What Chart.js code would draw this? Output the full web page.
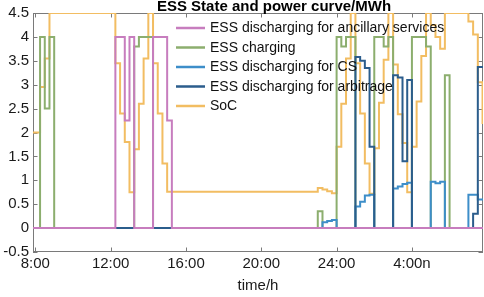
<!DOCTYPE html>
<html>
<head>
<meta charset="utf-8">
<script src="https://cdn.jsdelivr.net/npm/chart.js@4.4.0/dist/chart.umd.min.js"></script>
<style>
  html, body { margin: 0; padding: 0; background: #fff; }
</style>
</head>
<body>
<canvas id="essChart" width="484" height="297"></canvas>
<script>
// 15-min slots, slot 0 = 8:00 ... slot 95 = 7:45 next day
const tickSlots = [0, 16, 32, 48, 64, 80];
const tickLabels = ['8:00', '12:00', '16:00', '20:00', '24:00', '4:00n'];

const seriesNames = [
  'ESS discharging for ancillary services',
  'ESS charging',
  'ESS discharging for CS',
  'ESS discharging for arbitrage',
  'SoC'
];

// MW per slot, rows of 16 slots (4 h each)
const ancillary = [
  0, 0, 0, 0, 0, 0, 0, 0, 0, 0, 0, 0, 0, 0, 0, 0,
  0, 4, 4, 2.25, 4, 0, 0, 0, 0, 4, 4, 4, 2.25, 0, 0, 0,
  0, 0, 0, 0, 0, 0, 0, 0, 0, 0, 0, 0, 0, 0, 0, 0,
  0, 0, 0, 0, 0, 0, 0, 0, 0, 0, 0, 0, 0, 0, 0, 0,
  0, 0, 0, 0, 0, 0, 0, 0, 0, 0, 0, 0, 0, 0, 0, 0,
  0, 0, 0, 0, 0, 0, 0, 0, 0, 0, 0, 0, 0, 0, 0, 0
];

const charging = [
  0, 4, 2.5, 4, 0, 0, 0, 0, 0, 0, 0, 0, 0, 0, 0, 0,
  0, 0, 0, 0, 0, 3.8, 4, 4, 4, 0, 0, 0, 0, 0, 0, 0,
  0, 0, 0, 0, 0, 0, 0, 0, 0, 0, 0, 0, 0, 0, 0, 0,
  0, 0, 0, 0, 0, 0, 0, 0, 0, 0, 0, 0, 0.35, 0, 0, 0,
  4, 3.8, 4, 4, 0, 0, 0, 0, 4, 4, 3.8, 4, 0, 0, 0, 0,
  4, 4, 4, 3.8, 0, 0, 0, 3.2, 0, 0, 0, 0, 0, 0, 0, 0
];

const forCS = [
  0, 0, 0, 0, 0, 0, 0, 0, 0, 0, 0, 0, 0, 0, 0, 0,
  0, 0, 0, 0, 0, 0, 0, 0, 0, 0, 0, 0, 0, 0, 0, 0,
  0, 0, 0, 0, 0, 0, 0, 0, 0, 0, 0, 0, 0, 0, 0, 0,
  0, 0, 0, 0, 0, 0, 0, 0, 0, 0, 0, 0, 0, 0.12, 0.15, 0.17,
  0, 0, 0, 0, 0.45, 0.55, 0.68, 0.7, 0, 0, 0, 0, 0.83, 0.87, 0.92, 0.95,
  0, 0, 0, 0, 0.97, 0.94, 0.97, 0, 0, 0, 0, 0, 0.7, 0.7, 0.6, 0.6
];

const arbitrage = [
  0, 0, 0, 0, 0, 0, 0, 0, 0, 0, 0, 0, 0, 0, 0, 0,
  0, 0, 0, 0, 0, 0, 0, 0, 0, 0, 0, 0, 0, 0, 0, 0,
  0, 0, 0, 0, 0, 0, 0, 0, 0, 0, 0, 0, 0, 0, 0, 0,
  0, 0, 0, 0, 0, 0, 0, 0, 0, 0, 0, 0, 0, 0, 0, 0,
  0, 0, 0, 0, 3.58, 3.5, 3.35, 1.7, 0, 0, 0, 0, 3.2, 3.15, 1.4, 3.1,
  0, 0, 0, 0, 0, 0, 0, 0, 0, 0, 0, 0, 0, 0.3, 3.37, 3.37
];

// MWh
const soc = [
  2.0, 2.95, 3.55, 4.5, 4.5, 4.5, 4.5, 4.5, 4.5, 4.5, 4.5, 4.5, 4.5, 4.5, 4.5, 4.5,
  4.5, 3.45, 2.4, 1.8, 0.75, 1.65, 2.6, 3.55, 4.5, 3.45, 2.4, 1.35, 0.76, 0.76, 0.76, 0.76,
  0.76, 0.76, 0.76, 0.76, 0.76, 0.76, 0.76, 0.76, 0.76, 0.76, 0.76, 0.76, 0.76, 0.76, 0.76, 0.76,
  0.76, 0.76, 0.76, 0.76, 0.76, 0.76, 0.76, 0.76, 0.76, 0.76, 0.76, 0.76, 0.84, 0.81, 0.77, 0.73,
  1.7, 2.6, 3.55, 4.5, 3.45, 2.4, 1.35, 0.72, 1.67, 2.62, 3.52, 4.5, 3.42, 2.38, 1.78, 0.75,
  1.7, 2.65, 3.6, 4.5, 4.25, 4.0, 3.75, 4.5, 4.5, 4.5, 4.5, 4.5, 4.32, 4.05, 3.05, 2.2
];

const colors = ['#c77dbe', '#8cae6e', '#3d8ec9', '#2b5d8c', '#f2bd62'];
const axisColor = '#7a7a7a';
const font = "'Liberation Sans', Arial, sans-serif";

// stairs: each slot value held until the next slot
function stairs(vals) {
  const pts = [{ x: -0.5, y: vals[0] }];
  vals.forEach((v, i) => pts.push({ x: i, y: v }));
  pts.push({ x: vals.length, y: vals[vals.length - 1] });
  return pts;
}

const allSeries = [ancillary, charging, forCS, arbitrage, soc];
// drawing order: pink on top, then dark blue, light blue, green, SoC at the bottom
const drawOrder = [0, 3, 2, 1, 4];

const datasets = allSeries.map((vals, i) => ({
  label: seriesNames[i],
  data: stairs(vals),
  borderColor: colors[i],
  borderWidth: 2,
  stepped: true,
  pointRadius: 0,
  fill: false,
  order: drawOrder[i]
}));

const matlabBox = {
  id: 'matlabBox',
  beforeDatasetsDraw(chart) {
    const { ctx, chartArea: a, scales } = chart;
    ctx.save();
    ctx.strokeStyle = axisColor;
    ctx.lineWidth = 1;
    ctx.strokeRect(a.left + 0.5, a.top + 0.5, a.right - a.left - 1, a.bottom - a.top - 1);
    ctx.beginPath();
    scales.y.ticks.forEach(t => {
      const y = Math.round(scales.y.getPixelForValue(t.value)) + 0.5;
      ctx.moveTo(a.left, y); ctx.lineTo(a.left + 4.5, y);
      ctx.moveTo(a.right, y); ctx.lineTo(a.right - 4.5, y);
    });
    scales.x.ticks.forEach(t => {
      const x = Math.round(scales.x.getPixelForValue(t.value)) + 0.5;
      ctx.moveTo(x, a.bottom); ctx.lineTo(x, a.bottom - 4.5);
      ctx.moveTo(x, a.top); ctx.lineTo(x, a.top + 4.5);
    });
    ctx.stroke();
    ctx.restore();
  },
  afterDraw(chart) {
    const { ctx, chartArea: a } = chart;
    ctx.save();
    // title
    ctx.fillStyle = '#000';
    ctx.font = 'bold 15px ' + font;
    ctx.textAlign = 'center';
    ctx.textBaseline = 'alphabetic';
    ctx.fillText('ESS State and power curve/MWh', 274, 10.5);
    // x axis title
    ctx.fillStyle = '#1a1a1a';
    ctx.font = '15px ' + font;
    ctx.fillText('time/h', (a.left + a.right) / 2, 290);
    // legend
    ctx.font = '14px ' + font;
    ctx.textAlign = 'left';
    ctx.textBaseline = 'middle';
    seriesNames.forEach((name, i) => {
      const y = 28 + i * 19.5;
      ctx.strokeStyle = colors[i];
      ctx.lineWidth = 2.5;
      ctx.beginPath();
      ctx.moveTo(176, y);
      ctx.lineTo(205, y);
      ctx.stroke();
      ctx.fillStyle = '#111';
      ctx.fillText(name, 210, y + 0.5);
    });
    ctx.restore();
  }
};

new Chart(document.getElementById('essChart'), {
  type: 'line',
  data: { datasets },
  options: {
    responsive: false,
    animation: false,
    devicePixelRatio: 1,
    layout: { padding: { top: 13, right: 1, left: 0, bottom: 0 } },
    plugins: {
      legend: { display: false },
      title: { display: false },
      tooltip: { enabled: false }
    },
    scales: {
      x: {
        type: 'linear',
        min: -0.5,
        max: 95.1,
        grid: { display: false, drawTicks: false },
        border: { display: false },
        afterBuildTicks: s => { s.ticks = tickSlots.map(v => ({ value: v })); },
        afterFit: s => { s.height = 45; },
        ticks: {
          autoSkip: false,
          maxRotation: 0,
          padding: 3,
          color: '#1a1a1a',
          font: { family: font, size: 15 },
          callback: v => tickLabels[tickSlots.indexOf(v)]
        }
      },
      y: {
        min: -0.5,
        max: 4.5,
        grid: { display: false, drawTicks: false },
        border: { display: false },
        afterFit: s => { s.width = 33; },
        ticks: {
          stepSize: 0.5,
          padding: 4,
          color: '#1a1a1a',
          font: { family: font, size: 15 },
          callback: v => String(Math.round(v * 10) / 10)
        }
      }
    }
  },
  plugins: [matlabBox]
});
</script>
</body>
</html>
